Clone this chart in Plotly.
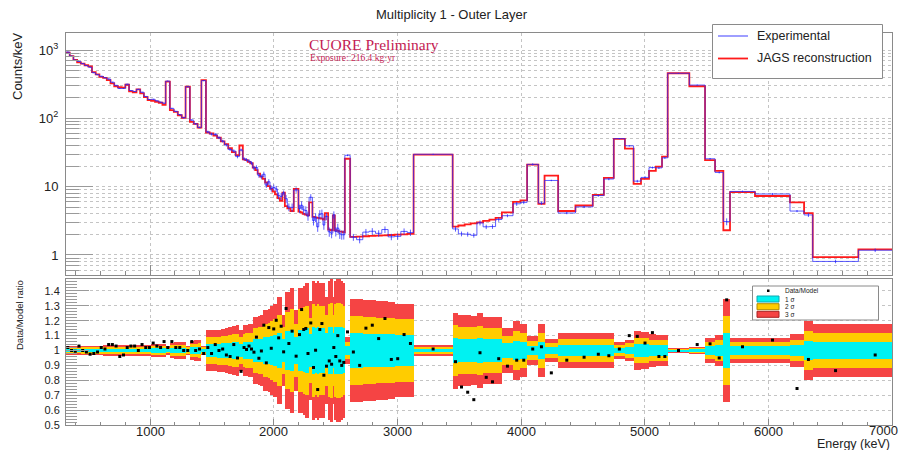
import plotly.graph_objects as go

# ---------------------------------------------------------------- data ----
# Bin edges of the multiplicity-1 outer-layer spectrum (keV)
edges = [320, 350, 380, 410, 440, 470, 500, 530, 560, 590, 620, 650, 680, 710,
         740, 770, 800, 830, 860, 890, 920, 950, 980, 1010, 1040, 1070, 1100,
         1126, 1160, 1192, 1224, 1256, 1287, 1322, 1353, 1384, 1415, 1452,
         1482, 1512, 1542, 1572, 1602, 1632, 1662, 1692, 1722, 1750,
         1770, 1790, 1810, 1830, 1850, 1870, 1890, 1910, 1930, 1950, 1970,
         1990, 2010, 2030, 2050, 2070, 2090, 2110, 2135, 2162, 2200,
         2217, 2234, 2251, 2268, 2286, 2313, 2330, 2347, 2364, 2381, 2398,
         2413, 2440, 2458, 2478, 2494, 2510, 2526, 2542, 2558, 2575, 2618,
         2670, 2720, 2771, 2823, 2874, 2925, 2977, 3028, 3080, 3131, 3447,
         3493, 3544, 3593, 3643, 3693, 3744, 3794, 3845, 3935, 3995, 4049,
         4140, 4190, 4300, 4440, 4580, 4670, 4750, 4840, 4910, 4970, 5035,
         5090, 5140, 5186, 5361, 5488, 5569, 5636, 5690, 5892, 6175, 6289,
         6359, 6728, 7000]

# JAGS reconstruction (counts/keV)
model = [915, 815, 715, 660, 632, 598, 575, 475, 440, 405, 390, 362, 325, 295,
         285, 282, 310, 248, 240, 266, 232, 205, 185, 181, 175, 169,
         157, 344, 132, 124, 111, 102, 290, 89, 83, 73, 363,
         62, 60, 56, 52, 46, 42, 36.5, 32, 29, 40,
         25, 24.5, 23, 22, 19, 17.5, 15.5, 14, 13, 11.5, 10.2, 9.3, 8.5, 7.7,
         6.8, 6.2, 8.2, 5.2, 4.8, 4.4, 9.3,
         4.3, 4.2, 4.0, 3.9, 3.8, 5.9, 3.6, 3.55, 3.5, 3.45, 3.4, 3.3, 4.1,
         2.35, 2.3, 3.8, 2.3, 2.25, 2.2, 2.2, 2.15, 25.6,
         1.84, 1.86, 1.88, 1.9, 1.92, 1.94, 1.96, 1.98, 2.0, 2.03, 29.5,
         2.6, 2.7, 2.8, 2.9, 3.0, 3.15, 3.3, 3.5, 4.2, 6.0, 6.3,
         21, 5.6, 14.5, 4.4, 5.3, 7.6, 13.4, 50, 36, 11, 13, 17, 19.6, 27.5,
         457, 295, 24.5, 17, 2.3, 8.3, 7.3, 5.9, 4.1, 0.93, 1.21]

# Data / Model ratio per bin
ratio = [1.02, 1.0, 0.995, 1.03, 1.0, 0.99, 0.975, 0.98, 0.99, 1.02, 1.01, 1.04,
         1.04, 1.03, 0.96, 0.97, 1.02, 1.03, 1.03, 1.0, 1.04, 1.02, 1.02, 1.05,
         1.03, 1.02,
         1.06, 1.02, 1.06, 1.02, 1.02, 1.0, 1.0, 1.06, 1.0, 1.01, 0.98,
         1.02, 0.98, 1.04, 1.0, 1.01, 0.97, 0.96, 1.04, 0.95, 0.86,
         1.02, 1.007, 1.03, 1.01, 0.989, 1.09, 0.948, 0.997, 1.17, 0.917, 1.154,
         1.015, 1.145, 1.203, 1.085, 1.163, 0.991, 1.282, 1.047, 1.13, 0.962,
         1.107, 1.275, 1.141, 1.148, 0.98, 1.185, 0.886, 1.002, 0.738, 1.141,
         1.181, 0.834, 0.895, 0.93, 0.908, 1.02, 0.96, 1.10, 0.93, 0.90, 0.92,
         1.125,
         0.99, 0.90, 1.15, 1.17, 1.08, 1.215, 0.94, 0.945, 1.107, 1.047, 1.01,
         0.925, 0.755, 0.72, 0.67, 0.985, 0.82, 0.79, 0.945, 0.895, 0.935, 0.935,
         1.01, 1.025, 0.85, 0.935, 0.955, 0.975, 0.965, 1.01, 1.10, 1.095, 1.05,
         1.12, 0.96, 0.96, 1.0, 1.04, 1.045, 0.95, 1.34, 1.025, 1.07, 0.745,
         0.94, 0.865, 0.97]

# Relative 1-sigma statistical uncertainty per bin
sigma = [0.010, 0.010, 0.010, 0.010, 0.011, 0.011, 0.011, 0.011, 0.011, 0.011,
         0.012, 0.012, 0.012, 0.012, 0.012, 0.012, 0.012, 0.012, 0.012, 0.013,
         0.013, 0.013, 0.013, 0.014, 0.014, 0.014,
         0.015, 0.010, 0.017, 0.018, 0.019, 0.020, 0.011, 0.022, 0.023, 0.024,
         0.011,
         0.045, 0.045, 0.046, 0.047, 0.048, 0.050, 0.052, 0.055, 0.057, 0.045,
         0.057, 0.058, 0.060, 0.060, 0.075, 0.075, 0.078, 0.080, 0.090, 0.090,
         0.092, 0.100, 0.105, 0.105, 0.120, 0.120, 0.080, 0.130, 0.130, 0.140,
         0.090,
         0.140, 0.140, 0.145, 0.150, 0.150, 0.110, 0.155, 0.150, 0.155, 0.150,
         0.150, 0.150, 0.120, 0.155, 0.160, 0.120, 0.155, 0.160, 0.160, 0.155,
         0.150, 0.030,
         0.115, 0.115, 0.112, 0.112, 0.110, 0.110, 0.108, 0.105, 0.105, 0.105,
         0.013,
         0.085, 0.080, 0.080, 0.078, 0.083, 0.075, 0.075, 0.075, 0.050, 0.067,
         0.060,
         0.033, 0.059, 0.025, 0.040, 0.040, 0.040, 0.040, 0.020, 0.024, 0.043,
         0.042, 0.036, 0.034, 0.034, 0.006, 0.008, 0.027, 0.034, 0.116, 0.028,
         0.027, 0.036, 0.066, 0.060, 0.060]

# Energy axis labels
energy_ticks = [1000, 2000, 3000, 4000, 5000, 6000, 7000]

title_text = "Multiplicity 1 - Outer Layer"
exp_name = "Experimental"
mod_name = "JAGS reconstruction"

# ---------------------------------------------------------- derived ------
centers = [(a + b) / 2 for a, b in zip(edges[:-1], edges[1:])]
widths = [b - a for a, b in zip(edges[:-1], edges[1:])]
experimental = [m * r for m, r in zip(model, ratio)]
exp_err = [e * s for e, s in zip(experimental, sigma)]

# ----------------------------------------------------------- styling -----
FONT = "Liberation Sans, Arial, sans-serif"
SERIF = "Liberation Serif, Times New Roman, serif"
FRAME = "#8a8a8a"
GRID = "#c4c4c4"
BLUE = "rgba(40,40,255,0.75)"
RED = "#ff1a1a"
CYAN = "#00f2f2"
GOLD = "#ffcc00"
BAND_RED = "#f54444"

W, H = 903, 450
ML, MR, MT, MB = 66, 11, 33, 25
PW, PH = W - ML - MR, H - MT - MB
X0, X1 = 320, 7000


def px(x):
    return (x - ML) / PW


def py(y):
    return (H - MB - y) / PH


def ex(e):
    """Energy value -> paper x coordinate."""
    return (e - X0) / (X1 - X0)


fig = go.Figure()

# ---- upper panel: spectra ----
fig.add_trace(go.Scatter(x=edges, y=model + [model[-1]], mode="lines",
                         line=dict(color=RED, width=1.8, shape="hv"),
                         name=mod_name, showlegend=False,
                         xaxis="x", yaxis="y", hoverinfo="skip"))
fig.add_trace(go.Scatter(x=edges, y=experimental + [experimental[-1]],
                         mode="lines",
                         line=dict(color=BLUE, width=1.0, shape="hv"),
                         name=exp_name, showlegend=False,
                         xaxis="x", yaxis="y", hoverinfo="skip"))
fig.add_trace(go.Scatter(x=centers, y=experimental, mode="markers",
                         marker=dict(size=1, color=BLUE),
                         error_y=dict(type="data", array=exp_err, width=0,
                                      thickness=1, color=BLUE),
                         showlegend=False, xaxis="x", yaxis="y",
                         hoverinfo="skip"))

# ---- lower panel: sigma bands and ratio ----
for k, col in [(3, BAND_RED), (2, GOLD), (1, CYAN)]:
    fig.add_trace(go.Bar(x=centers, y=[2 * k * s for s in sigma],
                         base=[1 - k * s for s in sigma], width=widths,
                         marker=dict(color=col, line=dict(width=0)),
                         showlegend=False, xaxis="x2", yaxis="y2",
                         hoverinfo="skip"))
fig.add_trace(go.Scatter(x=centers, y=ratio, mode="markers",
                         marker=dict(symbol="square", size=3, color="black"),
                         showlegend=False, xaxis="x2", yaxis="y2",
                         hoverinfo="skip"))

top_dom = [py(275), 1.0]
bot_dom = [0.0, py(279)]

log_minor = [0.6, 0.7, 0.8, 0.9] + [d * m for m in (1, 10, 100)
                                    for d in range(2, 10)]

xcommon = dict(range=[X0, X1], showline=True, linecolor=FRAME,
               linewidth=1, mirror=True,
               tickmode="array", tickvals=energy_ticks,
               showticklabels=False,
               showgrid=True, gridcolor=GRID, griddash="dot", gridwidth=1,
               zeroline=False, ticks="inside", tickcolor=FRAME,
               automargin=False)

fig.update_layout(
    template="none",
    width=W, height=H,
    margin=dict(l=ML, r=MR, t=MT, b=MB, autoexpand=False),
    paper_bgcolor="white", plot_bgcolor="white",
    barmode="overlay", bargap=0, showlegend=False,
    font=dict(family=FONT, size=13, color="#222222"),
    title=dict(text=title_text, x=0.5, xref="container", xanchor="center",
               y=1 - 14 / H, yref="container", yanchor="middle",
               font=dict(size=13, family=FONT, color="#222222")),
    xaxis=dict(**xcommon, domain=[0, 1], anchor="y", ticklen=10,
               minor=dict(dtick=200, tick0=0, ticklen=4, ticks="inside",
                          tickcolor=FRAME, showgrid=False)),
    yaxis=dict(type="log", range=[-0.293, 3.249], domain=top_dom,
               anchor="x", showline=True, linecolor=FRAME, mirror=True,
               automargin=False,
               tickvals=[1, 10, 100, 1000],
               ticktext=["1", "10", "10<sup>2</sup>", "10<sup>3</sup>"],
               ticks="inside", ticklen=27, tickcolor="#9a9a9a",
               showgrid=True, gridcolor=GRID, griddash="dot",
               tickfont=dict(size=13), ticklabelstandoff=4,
               minor=dict(tickvals=log_minor, ticks="inside", ticklen=13,
                          tickcolor="#9a9a9a", showgrid=True,
                          gridcolor=GRID, griddash="dot")),
    xaxis2=dict(**xcommon, domain=[0, 1], anchor="y2", ticklen=6,
                minor=dict(dtick=200, tick0=0, ticklen=3, ticks="inside",
                           tickcolor=FRAME, showgrid=False)),
    yaxis2=dict(range=[0.5, 1.48], domain=bot_dom, anchor="x2",
                showline=True, linecolor=FRAME, mirror=True,
                automargin=False,
                tickvals=[0.5, 0.6, 0.7, 0.8, 0.9, 1.0, 1.1, 1.2, 1.3, 1.4],
                ticktext=["0.5", "0.6", "0.7", "0.8", "0.9", "1", "1.1",
                          "1.2", "1.3", "1.4"],
                ticks="inside", ticklen=23, tickcolor="#9a9a9a",
                showgrid=True, gridcolor=GRID, griddash="dot",
                zeroline=False, tickfont=dict(size=11),
                ticklabelstandoff=3,
                minor=dict(dtick=0.02, tick0=0.5, ticks="inside",
                           ticklen=11, tickcolor="#9a9a9a",
                           showgrid=False)),
)

shapes = []
annotations = []

# energy tick labels, snug under the axis; the last one kept inside the edge
for e in energy_ticks:
    last = e >= X1
    xpos = px(ML + PW - 9) if last else ex(e)
    ypos = py(430) if last else py(431.5)
    annotations.append(dict(x=xpos, y=ypos, xref="paper", yref="paper",
                            text=str(e), showarrow=False,
                            font=dict(size=13, family=FONT, color="#222222"),
                            xanchor="center", yanchor="middle"))

# axis titles
annotations.append(dict(x=px(18), y=py(66), xref="paper", yref="paper",
                        text="Counts/keV", textangle=-90, showarrow=False,
                        font=dict(size=13, family=FONT, color="#222222"),
                        xanchor="center", yanchor="middle"))
annotations.append(dict(x=px(19), y=py(315), xref="paper", yref="paper",
                        text="Data/Model ratio", textangle=-90,
                        showarrow=False,
                        font=dict(size=9.5, family=FONT, color="#222222"),
                        xanchor="center", yanchor="middle"))
annotations.append(dict(x=px(892), y=py(444), xref="paper", yref="paper",
                        text="Energy (keV)", showarrow=False,
                        font=dict(size=12.5, family=FONT, color="#222222"),
                        xanchor="right", yanchor="middle"))

# collaboration label
annotations.append(dict(x=px(307), y=py(44.5), xref="paper", yref="paper",
                        text="CUORE Preliminary", showarrow=False,
                        font=dict(size=15.5, family=SERIF, color="#c31a52"),
                        xanchor="left", yanchor="middle"))
annotations.append(dict(x=px(308), y=py(57.5), xref="paper", yref="paper",
                        text="Exposure: 216.4 kg\u00b7yr", showarrow=False,
                        font=dict(size=9.5, family=SERIF, color="#c31a52"),
                        xanchor="left", yanchor="middle"))

# upper legend
shapes.append(dict(type="rect", xref="paper", yref="paper",
                   x0=px(712.5), x1=px(882.5), y0=py(78.5), y1=py(24.5),
                   fillcolor="white", line=dict(color="#8a8a8a", width=1),
                   layer="above"))
for yy, col, w, label in [(36, BLUE, 1.2, exp_name),
                          (58.5, RED, 1.8, mod_name)]:
    shapes.append(dict(type="line", xref="paper", yref="paper",
                       x0=px(718), x1=px(748), y0=py(yy), y1=py(yy),
                       line=dict(color=col, width=w), layer="above"))
    annotations.append(dict(x=px(755), y=py(yy), xref="paper", yref="paper",
                            text=label, showarrow=False,
                            font=dict(size=12.5, family=FONT,
                                      color="#222222"),
                            xanchor="left", yanchor="middle"))

# lower legend
shapes.append(dict(type="rect", xref="paper", yref="paper",
                   x0=px(752.5), x1=px(878.5), y0=py(320), y1=py(286),
                   fillcolor="white", line=dict(color="#8a8a8a", width=1),
                   layer="above"))
shapes.append(dict(type="rect", xref="paper", yref="paper",
                   x0=px(767), x1=px(769.5), y0=py(292), y1=py(289.5),
                   fillcolor="black", line=dict(width=0), layer="above"))
annotations.append(dict(x=px(783), y=py(290.7), xref="paper", yref="paper",
                        text="Data/Model", showarrow=False,
                        font=dict(size=6.5, family=FONT, color="#222222"),
                        xanchor="left", yanchor="middle"))
for yy, col, edge, label in [(299, CYAN, "#11a7b0", "1 \u03c3"),
                             (306.7, GOLD, "#b08a00", "2 \u03c3"),
                             (314.3, BAND_RED, "#a82020", "3 \u03c3")]:
    shapes.append(dict(type="rect", xref="paper", yref="paper",
                       x0=px(757), x1=px(779), y0=py(yy + 3), y1=py(yy - 3),
                       fillcolor=col, line=dict(color=edge, width=1),
                       layer="above"))
    annotations.append(dict(x=px(783), y=py(yy), xref="paper", yref="paper",
                            text=label, showarrow=False,
                            font=dict(size=6.5, family=FONT, color="#222222"),
                            xanchor="left", yanchor="middle"))

fig.update_layout(shapes=shapes, annotations=annotations)

fig.write_html("out.html")
